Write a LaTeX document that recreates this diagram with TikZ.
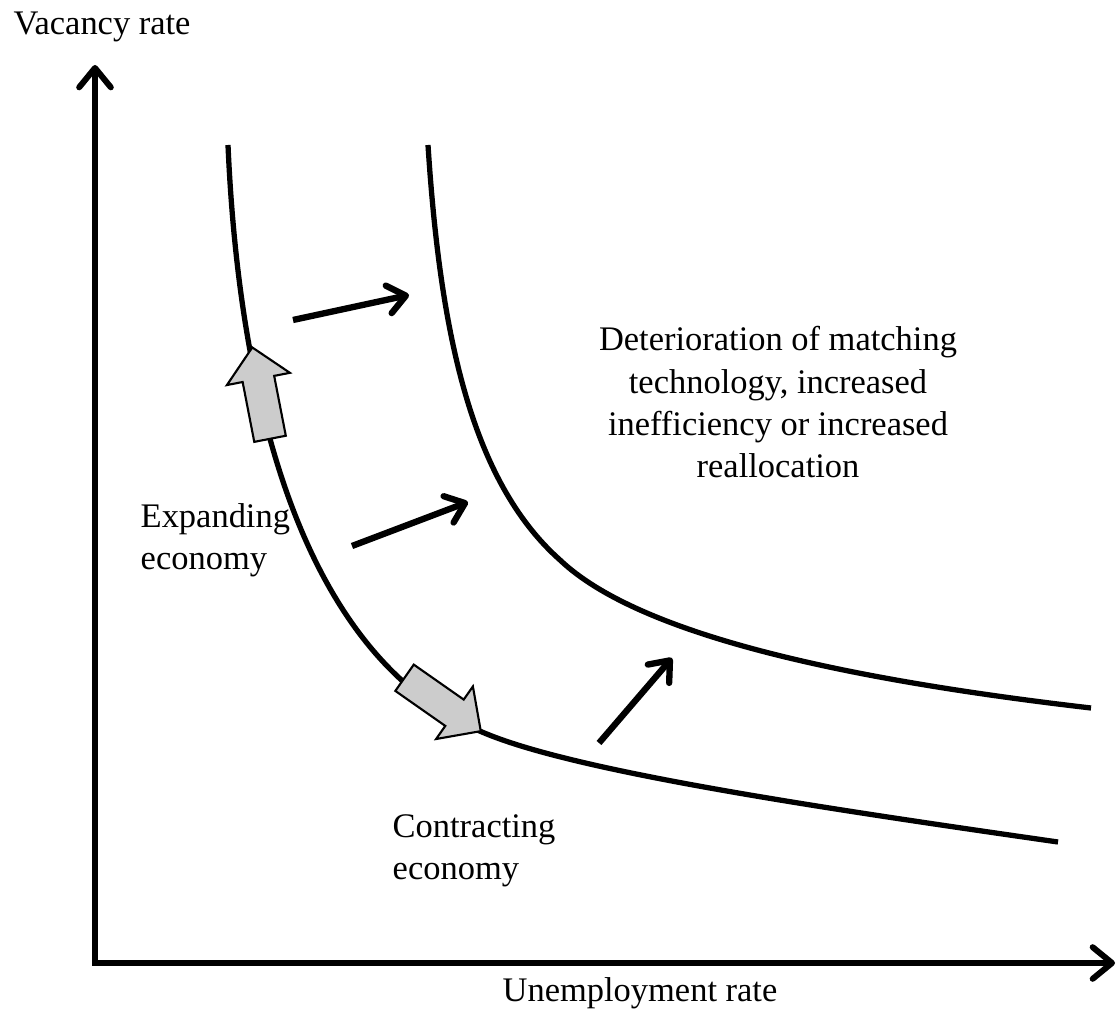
\documentclass[tikz,border=0pt]{standalone}
\usepackage{fontspec}
\setmainfont{Liberation Serif}
\usetikzlibrary{arrows.meta,shapes.arrows}

\tikzset{
  axisline/.style={line width=1.7pt, line join=miter,
    {Straight Barb[round, length=5.5pt, width=9pt]}-{Straight Barb[round, length=5.5pt, width=9pt]}},
  move/.style={line width=1.8pt, -{Straight Barb[round, length=5pt, width=8pt]}},
  ucurve/.style={line width=1.5pt},
  bigarrow/.style={single arrow, draw, fill=black!20, line width=0.6pt,
    inner sep=0.15cm, minimum width=0.62cm, minimum height=0.93cm,
    single arrow head extend=0.16cm},
  txt/.style={font=\fontsize{9.8}{12}\selectfont, inner sep=0pt}
}

\begin{document}
\begin{tikzpicture}[x=0.01cm, y=-0.01cm]

  \useasboundingbox (0,0) rectangle (1118,1010);

  % axes
  \coordinate (ytop) at (95,65);
  \coordinate (O) at (95,963);
  \coordinate (xend) at (1115,963);
  \draw [axisline] (ytop) -- (O) -- (xend);

  \node (vac) [txt, anchor=base] at (102,35) {Vacancy rate};
  \node (unemp) [txt, anchor=base] at (640,1001) {Unemployment rate};

  % Beveridge curves
  \draw [ucurve] (228,145) .. controls (240,420) and (310,660) .. (482,732)
    .. controls (570,770) and (800,805) .. (1058,842);
  \draw [ucurve] (428,145) .. controls (440,330) and (470,480) .. (560,560)
    .. controls (640,636) and (850,680) .. (1091,708);

  % movements along the curve
  \node (grow) [bigarrow, rotate=101, anchor=tip] at (252,346) {};
  \node (shrink) [bigarrow, rotate=-35, anchor=tip] at (482,732) {};

  % outward shifts
  \coordinate (s1) at (293,320);
  \coordinate (e1) at (409,295);
  \coordinate (s2) at (352,546);
  \coordinate (e2) at (468,502);
  \coordinate (s3) at (599,743);
  \coordinate (e3) at (672,658);
  \draw [move] (s1) -- (e1);
  \draw [move] (s2) -- (e2);
  \draw [move] (s3) -- (e3);

  \node (expand) [txt, align=left, anchor=north west] at (140,503) {Expanding\\economy};
  \node (contract) [txt, align=left, anchor=north west] at (392,814) {Contracting\\economy};
  \node (deter) [txt, align=center, anchor=north] at (778,326)
    {Deterioration of matching\\technology, increased\\inefficiency or increased\\reallocation};

\end{tikzpicture}
\end{document}
